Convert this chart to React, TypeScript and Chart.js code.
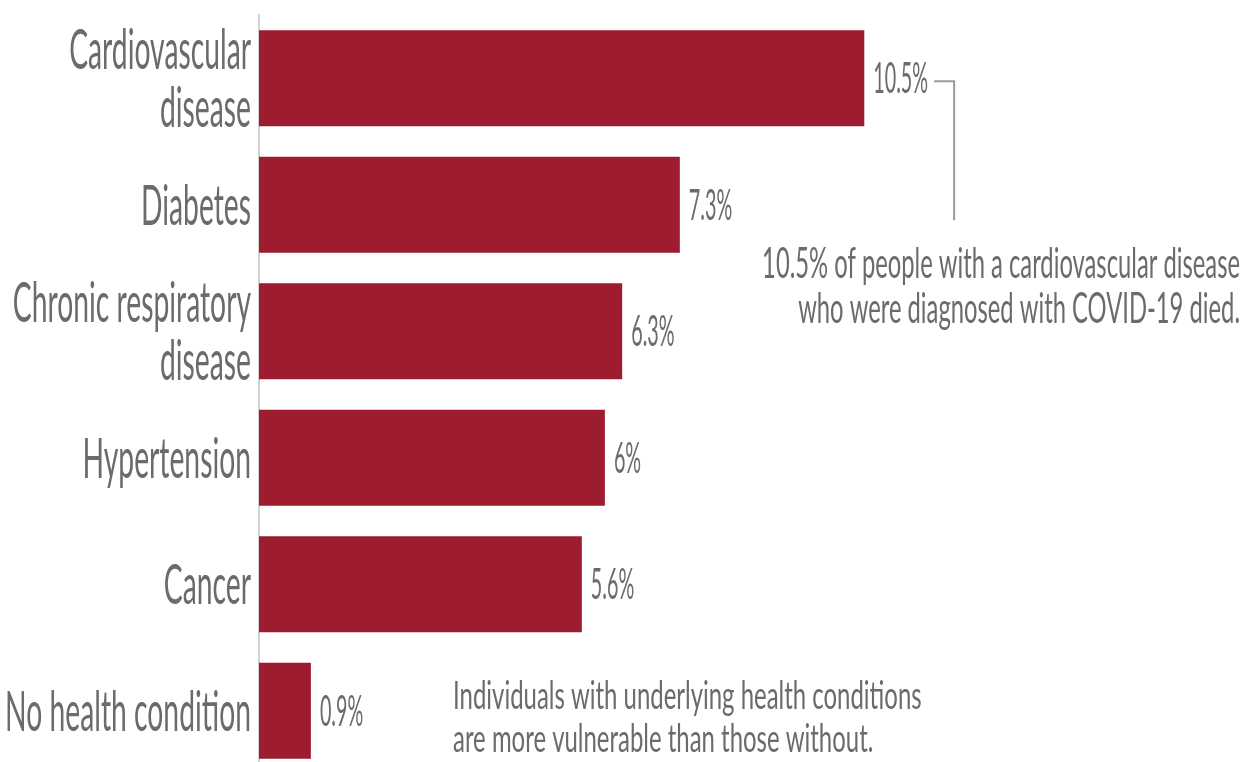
import React, { useEffect, useRef } from "react";
import { Chart, registerables } from "chart.js";

Chart.register(...registerables);

const categories: string[][] = [
  ["Cardiovascular", "disease"],
  ["Diabetes"],
  ["Chronic respiratory", "disease"],
  ["Hypertension"],
  ["Cancer"],
  ["No health condition"],
];
const values: number[] = [10.5, 7.3, 6.3, 6, 5.6, 0.9];
const valueLabels: string[] = ["10.5%", "7.3%", "6.3%", "6%", "5.6%", "0.9%"];
const noteTop: string[] = [
  "10.5% of people with a cardiovascular disease",
  "who were diagnosed with COVID-19 died.",
];
const noteBottom: string[] = [
  "Individuals with underlying health conditions",
  "are more vulnerable than those without.",
];

const BAR_COLOR = "#9d1c2f";
const TEXT_COLOR = "#6b6b6b";
const FAMILY = "Lato, 'Noto Sans', sans-serif";
const WEIGHT = 400;

function squeezedText(
  ctx: CanvasRenderingContext2D,
  text: string,
  x: number,
  y: number,
  align: CanvasTextAlign,
  sx: number
) {
  ctx.save();
  ctx.translate(x, y);
  ctx.scale(sx, 1);
  ctx.textAlign = align;
  ctx.textBaseline = "alphabetic";
  ctx.fillText(text, 0, 0);
  ctx.restore();
}

const textPlugin = {
  id: "textPlugin",
  afterDatasetsDraw(chart: any) {
    const ctx: CanvasRenderingContext2D = chart.ctx;
    const area = chart.chartArea;
    const meta = chart.getDatasetMeta(0);
    ctx.save();
    ctx.fillStyle = TEXT_COLOR;

    // Category labels
    const labelSize = 56;
    const labelLH = 58;
    const labelSX = 0.505;
    ctx.font = `${WEIGHT} ${labelSize}px ${FAMILY}`;
    meta.data.forEach((bar: any, i: number) => {
      const lines = categories[i];
      const cap = labelSize * 0.7165;
      const first = bar.y + cap / 2 - ((lines.length - 1) * labelLH) / 2;
      lines.forEach((ln, j) => {
        squeezedText(ctx, ln, area.left - 8, first + j * labelLH, "right", labelSX);
      });
    });

    // Value labels
    const valSize = 42;
    const valSX = 0.47;
    ctx.font = `${WEIGHT} ${valSize}px ${FAMILY}`;
    let firstLabelEnd = 0;
    meta.data.forEach((bar: any, i: number) => {
      const x = bar.x + 9;
      squeezedText(ctx, valueLabels[i], x, bar.y + (valSize * 0.7165) / 2, "left", valSX);
      if (i === 0) firstLabelEnd = x + ctx.measureText(valueLabels[i]).width * valSX;
    });

    // Bracket connector
    const b0 = meta.data[0];
    const bx = firstLabelEnd + 26;
    ctx.strokeStyle = "#9a9a9a";
    ctx.lineWidth = 2;
    ctx.beginPath();
    ctx.moveTo(firstLabelEnd + 6, b0.y + 3);
    ctx.lineTo(bx, b0.y + 3);
    ctx.lineTo(bx, b0.y + 142);
    ctx.stroke();

    // Top-right note
    ctx.font = `${WEIGHT} 43px ${FAMILY}`;
    squeezedText(ctx, noteTop[0], area.right + 1, 278, "right", 0.553);
    squeezedText(ctx, noteTop[1], area.right + 1, 323, "right", 0.553);

    // Bottom note
    ctx.font = `${WEIGHT} 38px ${FAMILY}`;
    squeezedText(ctx, noteBottom[0], 453, 709, "left", 0.63);
    squeezedText(ctx, noteBottom[1], 453, 752, "left", 0.63);

    ctx.restore();
  },
};

export default function App() {
  const ref = useRef<HTMLCanvasElement | null>(null);

  useEffect(() => {
    if (!ref.current) return;
    const chart = new Chart(ref.current, {
      type: "bar",
      data: {
        labels: categories.map((c) => c.join(" ")),
        datasets: [
          {
            data: values,
            backgroundColor: BAR_COLOR,
            borderWidth: 0,
            barPercentage: 0.76,
            categoryPercentage: 1,
          },
        ],
      },
      options: {
        indexAxis: "y",
        animation: false,
        responsive: false,
        maintainAspectRatio: false,
        layout: { padding: { top: 15, bottom: 2, right: 7, left: 0 } },
        plugins: {
          legend: { display: false },
          tooltip: { enabled: false },
          title: { display: false },
        },
        scales: {
          x: {
            display: false,
            min: 0,
            max: 17,
          },
          y: {
            afterFit: (scale: any) => {
              scale.width = 259;
            },
            grid: { display: false, drawTicks: false },
            border: { display: true, color: "#d2d2d2", width: 2 },
            ticks: { display: false },
          },
        },
      },
      plugins: [textPlugin],
    });
    return () => chart.destroy();
  }, []);

  return (
    <div
      style={{
        position: "fixed",
        left: 0,
        top: 0,
        width: 1246,
        height: 762,
        overflow: "hidden",
        background: "#fff",
      }}
    >
      <canvas
        ref={ref}
        width={1246}
        height={776}
        style={{ display: "block", width: 1246, height: 776 }}
      />
    </div>
  );
}
